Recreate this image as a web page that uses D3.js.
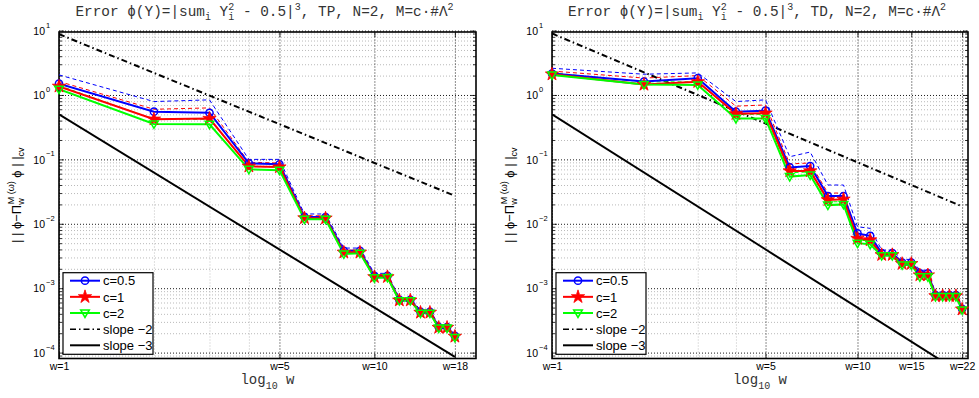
<!DOCTYPE html>
<html><head><meta charset="utf-8">
<script src="https://cdn.jsdelivr.net/npm/d3@7"></script>
<style>body{margin:0;background:#fff} svg{display:block}</style>
</head><body>
<svg id="c" width="979" height="398"></svg>
<script>
// ---------------- data ----------------
const wTP = [1,2,3,4,5,6,7,8,9,10,11,12,13,14,15,16,17,18];
const wTD = [1,2,3,4,5,6,7,8,9,10,11,12,13,14,15,16,17,18,19,20,21,22];
const seriesNames = ["c=0.5","c=1","c=2"];
const seriesColors = ["#0000ff","#ff0000","#00ff00"];

const tpC05 = [1.5,0.55,0.53,0.087,0.084,0.0128,0.0127,0.0038,0.0038,0.00155,0.00155,0.00066,0.00066,0.00043,0.00043,0.00025,0.00025,0.000182];
const tpC1  = [1.36,0.42,0.43,0.078,0.076,0.0123,0.0122,0.0036,0.0036,0.0015,0.0015,0.00065,0.00065,0.00042,0.00042,0.000245,0.000245,0.000178];
const tpC2  = [1.23,0.355,0.35,0.07,0.068,0.0118,0.0118,0.0034,0.0035,0.00145,0.00147,0.00064,0.00064,0.00041,0.00041,0.00024,0.00024,0.000172];
const tpC05Up = [2.05,0.79,0.84,0.1,0.1,0.0142,0.0142,0.0042,0.0042,0.0017,0.0017,0.0007,0.0007,0.00046,0.00046,0.00027,0.00027,0.00019];
const tpC1Up  = [1.62,0.6,0.63,0.09,0.088,0.0133,0.0133,0.0039,0.0039,0.0016,0.0016,0.00068,0.00068,0.00044,0.00044,0.00026,0.00026,0.000185];
const tpC2Up  = [1.4,0.42,0.42,0.078,0.076,0.0125,0.0125,0.0036,0.0036,0.00152,0.00152,0.00066,0.00066,0.00042,0.00042,0.00025,0.00025,0.000178];

const tdC05 = [2.15,1.62,1.82,0.55,0.57,0.075,0.079,0.027,0.027,0.0071,0.0065,0.0035,0.0035,0.0025,0.0025,0.0017,0.0017,0.00078,0.00078,0.00078,0.00078,0.00048];
const tdC1  = [2.1,1.45,1.6,0.51,0.52,0.066,0.066,0.0235,0.024,0.0059,0.0056,0.0033,0.0033,0.0024,0.0024,0.0016,0.0016,0.00076,0.00076,0.00076,0.00076,0.00047];
const tdC2  = [2.05,1.45,1.43,0.43,0.43,0.054,0.057,0.0195,0.02,0.005,0.0048,0.0032,0.0032,0.0023,0.0023,0.0015,0.0015,0.00074,0.00074,0.00074,0.00074,0.00046];
const tdC05Up = [2.6,2.1,2.2,0.79,0.84,0.11,0.13,0.04,0.04,0.009,0.0085,0.0039,0.0039,0.0028,0.0028,0.0019,0.0019,0.00085,0.00085,0.00085,0.00085,0.00052];
const tdC1Up  = [2.35,1.83,2.0,0.67,0.7,0.085,0.088,0.03,0.03,0.0068,0.0065,0.0036,0.0036,0.0026,0.0026,0.0018,0.0018,0.00082,0.00082,0.00082,0.00082,0.0005];
const tdC2Up  = [2.2,1.6,1.6,0.5,0.5,0.062,0.064,0.022,0.022,0.0056,0.0054,0.0034,0.0034,0.0024,0.0024,0.0016,0.0016,0.00078,0.00078,0.00078,0.00078,0.00048];

// reference slope lines: endpoints (w, value)
const slopeW_TP = [1, 18];
const slope2_TP = [8.8, 0.0272];
const slope3_TP = [0.5, 0.0000857];
const slopeW_TD = [1, 22];
const slope2_TD = [9.0, 0.0186];
const slope3_TD = [0.5, 0.000047];

const tickW_TP = [1,5,10,18];
const tickW_TD = [1,5,10,15,22];
const lightW = [2,3,4];
const yMajor = [1e-4,1e-3,1e-2,1e-1,1,10];
const legendNames = ["c=0.5","c=1","c=2","slope \u22122","slope \u22123"];

// ---------------- drawing ----------------
const svg = d3.select("#c");
const SANS = "'Liberation Sans', Arial, Helvetica, sans-serif";
const MONO = "'Liberation Mono', 'Courier New', monospace";
const yTop = 32, yBot = 358.5;
const yS = d3.scaleLog().domain([8.1e-5, 9.5]).range([yBot, yTop]);
const yMinor = [];
for (let e=-5;e<=1;e++) for (let k=2;k<=9;k++){ const v=k*Math.pow(10,e); if (v>=8.1e-5 && v<=9.5) yMinor.push(v); }

const markers = [
  (g,x,y,c)=>g.append("circle").attr("cx",x).attr("cy",y).attr("r",3.6).attr("fill","none").attr("stroke",c).attr("stroke-width",1.5),
  (g,x,y,c)=>g.append("path").attr("transform",`translate(${x},${y})`).attr("d",d3.symbol(d3.symbolStar,55)()).attr("fill",c).attr("stroke",c).attr("stroke-width",0.8),
  (g,x,y,c)=>g.append("path").attr("transform",`translate(${x},${y})`).attr("d","M-4.3,-3L4.3,-3L0,4.4Z").attr("fill","none").attr("stroke",c).attr("stroke-width",1.5)
];

function panel(o){
  const xS = d3.scaleLog().domain([1, o.wMax]).range([o.x0, o.x1]);
  const W = o.x1 - o.x0, H = yBot - yTop;
  const g = svg.append("g");
  const id = "clip"+o.key;
  svg.append("clipPath").attr("id",id).append("rect").attr("x",o.x0).attr("y",yTop).attr("width",W).attr("height",H);

  // grid: minor horizontal
  g.append("g").attr("transform",`translate(${o.x0},0)`)
    .call(d3.axisLeft(yS).tickValues(yMinor).tickSize(-W).tickFormat(""))
    .call(a=>{a.select(".domain").remove(); a.selectAll("line").attr("stroke","#a8a8a8").attr("stroke-width",0.8).attr("stroke-dasharray","1,2");});
  // light vertical
  g.append("g").attr("transform",`translate(0,${yBot})`)
    .call(d3.axisBottom(xS).tickValues(lightW).tickSize(-H).tickFormat(""))
    .call(a=>{a.select(".domain").remove(); a.selectAll("line").attr("stroke","#b0b0b0").attr("stroke-width",0.8).attr("stroke-dasharray","1,2");});
  // major horizontal
  g.append("g").attr("transform",`translate(${o.x0},0)`)
    .call(d3.axisLeft(yS).tickValues(yMajor).tickSize(-W).tickFormat(""))
    .call(a=>{a.select(".domain").remove(); a.selectAll("line").attr("stroke","#000").attr("stroke-width",0.9).attr("stroke-dasharray","1,2");});
  // major vertical
  g.append("g").attr("transform",`translate(0,${yBot})`)
    .call(d3.axisBottom(xS).tickValues(o.ticks).tickSize(-H).tickFormat(""))
    .call(a=>{a.select(".domain").remove(); a.selectAll("line").attr("stroke","#000").attr("stroke-width",0.9).attr("stroke-dasharray","1,2");});

  // tick marks inside
  const tk = (axisFn, vals, size, tr) => g.append("g").attr("transform",tr)
      .call(axisFn.tickValues(vals).tickSize(size).tickFormat(""))
      .call(a=>{a.select(".domain").remove(); a.selectAll("line").attr("stroke","#000").attr("stroke-width",0.8);});
  tk(d3.axisLeft(yS), yMinor, -3, `translate(${o.x0},0)`);
  tk(d3.axisRight(yS), yMinor, -3, `translate(${o.x1},0)`);
  tk(d3.axisLeft(yS), yMajor, -5, `translate(${o.x0},0)`);
  tk(d3.axisRight(yS), yMajor, -5, `translate(${o.x1},0)`);
  tk(d3.axisBottom(xS), o.ticks, -5, `translate(0,${yBot})`);
  tk(d3.axisTop(xS), o.ticks, -5, `translate(0,${yTop})`);

  // y tick labels
  const yl = g.append("g").attr("transform",`translate(${o.x0},0)`)
    .call(d3.axisLeft(yS).tickValues(yMajor).tickSize(0).tickFormat(""));
  yl.select(".domain").remove();
  yl.selectAll(".tick").each(function(d){
    const t = d3.select(this);
    t.append("text").attr("x",-14).attr("dy","0.36em").attr("text-anchor","end")
      .style("font-family",SANS).style("font-size","10.5px").attr("fill","#000").text("10");
    t.append("text").attr("x",-13).attr("y",-3.5).attr("text-anchor","start")
      .style("font-family",SANS).style("font-size","7.5px").attr("fill","#000").text(Math.round(Math.log10(d)).toString().replace("-","\u2212"));
  });
  // x tick labels
  const xl = g.append("g").attr("transform",`translate(0,${yBot})`)
    .call(d3.axisBottom(xS).tickValues(o.ticks).tickSize(0).tickPadding(4).tickFormat(d=>"w="+d));
  xl.select(".domain").remove();
  xl.selectAll("text").style("font-family",SANS).style("font-size","10.5px").attr("fill","#000");

  // box
  g.append("rect").attr("x",o.x0).attr("y",yTop).attr("width",W).attr("height",H)
    .attr("fill","none").attr("stroke","#000").attr("stroke-width",1.6);

  // data
  const dg = g.append("g").attr("clip-path",`url(#${id})`);
  const line = d3.line().x((d,i)=>xS(o.w[i])).y(d=>yS(d));
  // slope lines
  dg.append("path").attr("d", d3.line().x((d,i)=>xS(o.slopeW[i])).y(d=>yS(d))(o.s2))
    .attr("fill","none").attr("stroke","#000").attr("stroke-width",2).attr("stroke-dasharray","6,3,1.5,3");
  dg.append("path").attr("d", d3.line().x((d,i)=>xS(o.slopeW[i])).y(d=>yS(d))(o.s3))
    .attr("fill","none").attr("stroke","#000").attr("stroke-width",2);
  // dashed bounds
  o.up.forEach((s,k)=>{
    dg.append("path").attr("d",line(s)).attr("fill","none").attr("stroke",seriesColors[k])
      .attr("stroke-width",1).attr("stroke-dasharray","4,3");
  });
  const mg = g.append("g");
  o.series.forEach((s,k)=>{
    dg.append("path").attr("d",line(s)).attr("fill","none").attr("stroke",seriesColors[k]).attr("stroke-width",2);
    s.forEach((v,i)=>markers[k](mg, xS(o.w[i]), yS(v), seriesColors[k]));
  });

  // legend
  const lx = o.x0 + 4, ly = 272.7, lw = 90, lh = 81.6;
  const lg = g.append("g");
  lg.append("rect").attr("x",lx).attr("y",ly).attr("width",lw).attr("height",lh)
    .attr("fill","#fff").attr("stroke","#000").attr("stroke-width",1.2);
  legendNames.forEach((nm,i)=>{
    const cy = 280.7 + i*16.15;
    const col = i<3 ? seriesColors[i] : "#000";
    const ln = lg.append("line").attr("x1",lx+7).attr("x2",lx+37).attr("y1",cy).attr("y2",cy)
      .attr("stroke",col).attr("stroke-width",2);
    if (i===3) ln.attr("stroke-dasharray","6,3,1.5,3").attr("stroke-width",1.5);
    if (i<3) markers[i](lg, lx+22, cy, col);
    lg.append("text").attr("x",lx+40).attr("y",cy).attr("dy","0.36em")
      .style("font-family",SANS).style("font-size","13px").attr("fill","#000").text(nm);
  });

  // title
  const cx = (o.x0+o.x1)/2 - 3;
  const t = svg.append("text").attr("x",cx).attr("y",16).attr("text-anchor","middle")
    .style("font-family",MONO).style("font-size","14.4px").attr("fill","#333");
  const sp = (txt,size,dx,dy)=>{const e=t.append("tspan").text(txt).style("font-size",size+"px"); if(dx) e.attr("dx",dx); if(dy) e.attr("dy",dy); return e;};
  sp("Error \u03d5(Y)=|sum",14.4,0,0);
  sp("i",10,0,4);
  sp(" Y",14.4,0,-4);
  sp("2",10,0,-6);
  sp("i",10,-6,10);
  sp(" - 0.5|",14.4,0,-4);
  sp("3",10,0,-6);
  sp(", "+o.tag+", N=2, M=c\u00b7#\u039b",14.4,0,6);
  sp("2",10,0,-6);

  // x label
  const xt = svg.append("text").attr("x",(o.x0+o.x1)/2).attr("y",384).attr("text-anchor","middle")
    .style("font-family",MONO).style("font-size","14px").attr("fill","#333");
  xt.append("tspan").text("log");
  xt.append("tspan").text("10").style("font-size","10px").attr("dy",5);
  xt.append("tspan").text(" w").attr("dy",-5);

  // y label
  const yt = svg.append("text").attr("transform",`translate(${o.x0-38},${(yTop+yBot)/2}) rotate(-90)`)
    .attr("text-anchor","middle").style("font-family",SANS).style("font-size","13px").attr("fill","#000");
  yt.append("tspan").text("| | \u03d5\u2212\u03a0");
  yt.append("tspan").text("w").style("font-size","9px").attr("dy",3);
  yt.append("tspan").text("M (\u03c9)").style("font-size","9px").attr("dx",-6).attr("dy",-10);
  yt.append("tspan").text(" \u03d5 | |").attr("dy",7);
  yt.append("tspan").text("cv").style("font-size","9px").attr("dy",3);
}

panel({key:"TP", tag:"TP", x0:59, x1:476, wMax:21, w:wTP, ticks:tickW_TP,
  series:[tpC05,tpC1,tpC2], up:[tpC05Up,tpC1Up,tpC2Up],
  slopeW:slopeW_TP, s2:slope2_TP, s3:slope3_TP});
panel({key:"TD", tag:"TD", x0:552, x1:968, wMax:23, w:wTD, ticks:tickW_TD,
  series:[tdC05,tdC1,tdC2], up:[tdC05Up,tdC1Up,tdC2Up],
  slopeW:slopeW_TD, s2:slope2_TD, s3:slope3_TD});
</script>
</body></html>
